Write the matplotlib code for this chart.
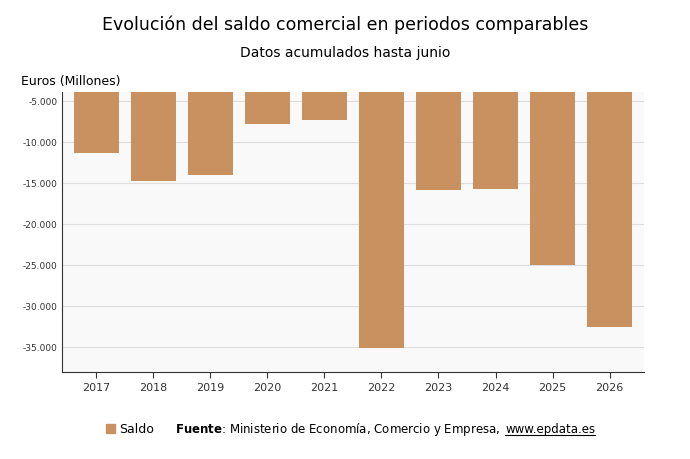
import matplotlib
matplotlib.use("Agg")
import matplotlib.pyplot as plt
from matplotlib.ticker import FuncFormatter

years = ["2017","2018","2019","2020","2021","2022","2023","2024","2025","2026"]
saldo = [-11340, -14760, -14020, -7800, -7320, -35120, -15850, -15730, -25000, -32560]
yticks = [-5000, -10000, -15000, -20000, -25000, -30000, -35000]

fig = plt.figure(figsize=(6.9, 4.6), dpi=100)
ax = fig.add_axes([0.09, 0.19, 0.843, 0.608])
ax.set_facecolor("#f9f9f9")
top = -3900
ax.bar(range(len(years)), [s - top for s in saldo], bottom=top, width=0.8, color="#c8915f", zorder=3)
ax.set_ylim(-38050, top)
ax.set_xlim(-0.6, 9.6)
ax.set_yticks(yticks)
ax.yaxis.set_major_formatter(FuncFormatter(lambda v, p: f"{int(v):,}".replace(",", ".")))
ax.set_xticks(range(len(years)))
ax.set_xticklabels(years)
ax.grid(axis="y", color="#dddddd", lw=0.8, zorder=0)
for s in ["top", "right"]:
    ax.spines[s].set_visible(False)
ax.spines["left"].set_color("#333333")
ax.spines["bottom"].set_color("#333333")
ax.tick_params(axis="y", labelsize=6.5, length=0, colors="#333333")
ax.tick_params(axis="x", labelsize=8, length=4, colors="#333333")
fig.text(0.5, 0.935, "Evolución del saldo comercial en periodos comparables", ha="center", fontsize=12.5)
fig.text(0.5, 0.875, "Datos acumulados hasta junio", ha="center", fontsize=10)
fig.text(0.03, 0.815, "Euros (Millones)", ha="left", fontsize=9)
fig.patches.append(plt.Rectangle((0.153, 0.057), 0.013, 0.02, transform=fig.transFigure, color="#c8915f"))
fig.text(0.172, 0.058, "Saldo", fontsize=9)
t1 = fig.text(0.253, 0.058, r"$\bf{Fuente}$: Ministerio de Economía, Comercio y Empresa,", fontsize=8.5)
fig.canvas.draw()
r = fig.canvas.get_renderer()
bb = t1.get_window_extent(r)
x2 = bb.x1 / fig.bbox.width + 0.008
t2 = fig.text(x2, 0.058, "www.epdata.es", fontsize=8.5)
bb2 = t2.get_window_extent(r)
fig.add_artist(plt.Line2D([x2, bb2.x1 / fig.bbox.width], [0.053, 0.053], transform=fig.transFigure, color="black", lw=0.8))
fig.savefig("out.png", dpi=100)
